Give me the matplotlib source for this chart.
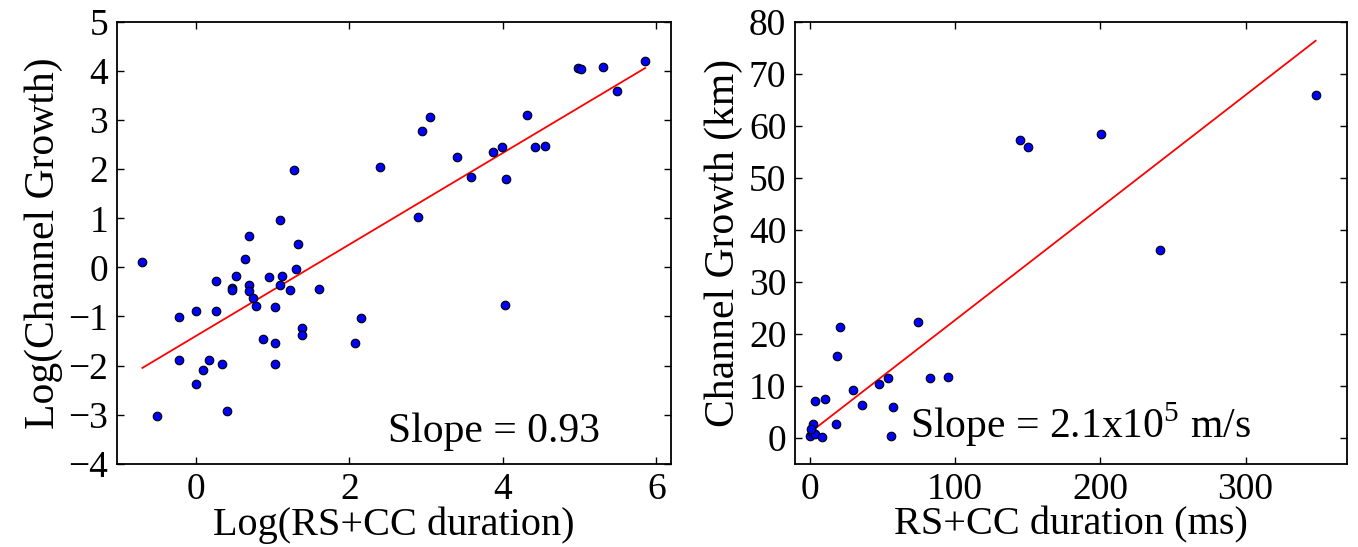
import numpy as np
from matplotlib import pyplot as plt

# left panel: log-log values
log_dur = [-0.695, -0.508, -0.222, -0.222, 0.0, 0.0, 0.096, 0.178, 0.265, 0.265,
           0.339, 0.404, 0.469, 0.469, 0.53, 0.639, 0.695, 0.695, 0.695, 0.743,
           0.786, 0.874, 0.956, 1.026, 1.026, 1.026, 1.10, 1.10, 1.13, 1.226,
           1.278, 1.308, 1.334, 1.386, 1.386, 1.608, 2.08, 2.155, 2.40, 2.894,
           2.947, 3.047, 3.403, 3.585, 3.872, 3.99, 4.04, 4.03, 4.316, 4.42,
           4.554, 4.976, 5.015, 5.30, 5.485, 5.854]
log_growth = [0.106, -3.03, -1.01, -1.89, -0.886, -2.37, -2.10, -1.89, -0.28, -0.886,
              -1.96, -2.92, -0.43, -0.47, -0.18, 0.173, 0.635, -0.363, -0.49, -0.62,
              -0.78, -1.46, -0.19, -0.80, -1.55, -1.96, 0.974, -0.356, -0.18, -0.47,
              1.99, -0.04, 0.47, -1.23, -1.38, -0.44, -1.55, -1.04, 2.04, 1.03,
              2.77, 3.07, 2.24, 1.85, 2.36, 2.46, 1.81, -0.76, 3.11, 2.45,
              2.48, 4.06, 4.04, 4.08, 3.59, 4.21]
fit_left = (0.933, -1.40)

# right panel: linear values
duration_ms = [0.0, 1.2, 2.3, 3.4, 8.0, 0.7, 3.2, 10.5, 17.7, 18.6, 20.6, 29.4,
               35.6, 47.5, 53.5, 55.5, 56.9, 74.6, 82.8, 94.8, 144.7, 150.0,
               200.1, 240.9, 348.2]
growth_km = [0.25, 1.1, 2.6, 0.8, 0.1, 1.7, 7.1, 7.4, 2.7, 15.8, 21.3, 9.2,
             6.2, 10.3, 11.5, 0.4, 6.0, 22.2, 11.4, 11.7, 57.3, 56.0,
             58.5, 36.1, 65.9]
fit_right = (0.2165, 1.0)

plt.rcParams['font.family'] = ['Liberation Serif', 'DejaVu Serif']
plt.rcParams['mathtext.fontset'] = 'custom'
plt.rcParams['mathtext.rm'] = 'Liberation Serif'

fig = plt.figure(figsize=(13.58, 5.47), dpi=100)
ax1 = fig.add_axes([0.0859, 0.1523, 0.4082, 0.8075])
ax2 = fig.add_axes([0.5852, 0.1523, 0.4069, 0.8075])

fs = 29

ax1.scatter(log_dur, log_growth, s=38, c='b', edgecolors='k', linewidths=0.8, zorder=3)
xl = np.array([min(log_dur), max(log_dur)])
ax1.plot(xl, fit_left[0] * xl + fit_left[1], c='r', lw=1.3, zorder=2)
ax1.set_xlim(-1.03, 6.19)
ax1.set_ylim(-4, 5)
ax1.set_xticks([0, 2, 4, 6])
ax1.set_yticks(range(-4, 6))
ax1.set_xlabel("Log(RS+CC duration)", fontsize=fs, labelpad=0)
ax1.set_ylabel("Log(Channel Growth)", fontsize=30, labelpad=4)
ax1.text(2.5, -3.55, "Slope = 0.93", fontsize=30)

ax2.scatter(duration_ms, growth_km, s=38, c='b', edgecolors='k', linewidths=0.8, zorder=3)
xr = np.array([min(duration_ms), max(duration_ms)])
ax2.plot(xr, fit_right[0] * xr + fit_right[1], c='r', lw=1.3, zorder=2)
ax2.set_xlim(-10.5, 370)
ax2.set_ylim(-5, 80)
ax2.set_xticks([0, 100, 200, 300])
ax2.set_yticks(range(0, 81, 10))
ax2.set_xlabel("RS+CC duration (ms)", fontsize=fs, labelpad=0)
ax2.set_ylabel("Channel Growth (km)", fontsize=30, labelpad=4)
ax2.text(69, 0.0, r"Slope = 2.1x10$^5$ m/s", fontsize=30)

for ax in (ax1, ax2):
    ax.tick_params(direction='in', top=True, right=True, length=5, width=1,
                   labelsize=27, pad=6)
    for sp in ax.spines.values():
        sp.set_linewidth(1.3)

fig.savefig("out.png", dpi=100)
